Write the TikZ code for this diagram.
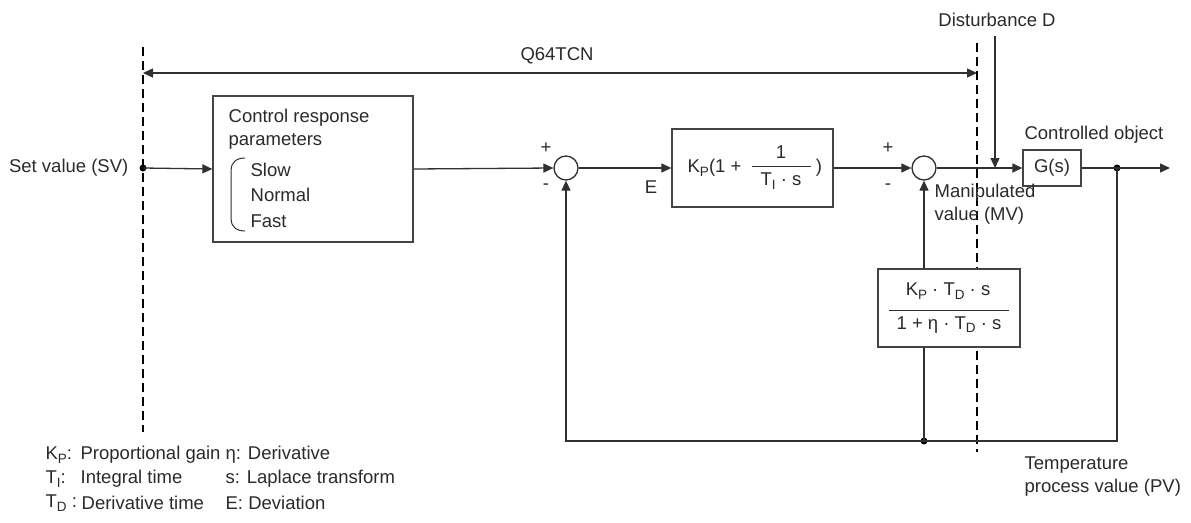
\documentclass[tikz,border=0pt]{standalone}
\usepackage{fontspec}
\setmainfont{Liberation Sans}
\usetikzlibrary{arrows.meta}
\definecolor{ln}{HTML}{303030}
\definecolor{bx}{HTML}{444444}
\definecolor{txt}{HTML}{2a2a2a}
\newcommand{\sbs}[1]{\raisebox{-3.5pt}{\fontsize{13.5}{14}\selectfont #1}}
\begin{document}
\begin{tikzpicture}[x=1pt,y=-1pt, line width=1.3pt, draw=ln,
  every node/.style={font=\fontsize{18.5}{22}\selectfont, text=txt, inner sep=0pt},
  arr/.style={-{Triangle[length=10pt,width=9pt]}},
  darr/.style={{Triangle[length=10pt,width=9pt]}-{Triangle[length=10pt,width=9pt]}},
  blk/.style={draw=bx, line width=1.3pt, fill=white},
  sumc/.style={circle, draw=ln, line width=1.3pt, minimum size=24pt, inner sep=0pt},
  dashl/.style={draw=black, line width=2pt, dash pattern=on 9pt off 5pt},
  dotn/.style={circle, fill=black, minimum size=7pt, inner sep=0pt}]
\useasboundingbox (0,0) rectangle (1191,522);

% dashed boundary lines
\coordinate (lt) at (143,47);
\coordinate (lb) at (143,432);
\coordinate (rt) at (977,43);
\coordinate (rb) at (977,452);
\draw[dashl] (lt) -- (lb);
\draw[dashl] (rt) -- (rb);

% Q64TCN range
\coordinate (ql) at (143,73);
\coordinate (qr) at (977,73);
\draw[darr] (ql) -- (qr);
\node (qlabel) at (557,56) {Q64TCN};

% blocks
\node[blk, minimum width=200pt, minimum height=146pt] (crp) at (313,169) {};
\node[anchor=west] (crp1) at (228,118) {Control response};
\node[anchor=west] (crp2) at (228,141) {parameters};
\node[anchor=west] (slow) at (250,170) {Slow};
\node[anchor=west] (normal) at (250,195) {Normal};
\node[anchor=west] (fast) at (250,221) {Fast};
\draw[line width=1pt] (245,158) .. controls (236,158) and (231,163) .. (231,170) -- (231,219) .. controls (231,226) and (236,231) .. (245,231);

\node[sumc] (s1) at (566,168) {};
\node[sumc] (s2) at (924,168) {};

\node[blk, minimum width=161pt, minimum height=78pt] (pi) at (752.5,168) {};
\node[anchor=west] (pi1) at (687,168) {K\sbs{P}(1 +};
\node (pi2) at (781,152) {1};
\draw[line width=1pt] (752,166) -- (811,166);
\node (pi3) at (781,181) {T\sbs{I} · s};
\node (pi4) at (819,168) {)};

\node[blk, minimum width=58pt, minimum height=36pt] (g) at (1052,168) {G(s)};
\node (gl) at (1094,135) {Controlled object};

\node[blk, minimum width=142pt, minimum height=78pt] (d) at (949,308) {};
\node (d1) at (948,291) {K\sbs{P} · T\sbs{D} · s};
\draw[line width=1pt] (889,310) -- (1009,310);
\node (d2) at (949,325) {1 + η · T\sbs{D} · s};

% signs
\node (p1) at (546,148) {+};
\node (m1) at (546,187) {-};
\node (p2) at (888,148) {+};
\node (m2) at (888,187) {-};
\node (elab) at (651,187) {E};

% labels
\node[anchor=east] (sv) at (129,168) {Set value (SV)};
\node (dlab) at (997,20) {Disturbance D};
\node[anchor=west] (mv1) at (934,193) {Manipulated};
\node[anchor=west] (mv2) at (934,216) {value (MV)};
\node[anchor=west] (pv1) at (1024,465) {Temperature};
\node[anchor=west] (pv2) at (1024,488) {process value (PV)};

% dots
\node[dotn] (svdot) at (143,168) {};
\node[dotn] (odot) at (1117,168) {};
\node[dotn] (ddot) at (924,441) {};
\coordinate (fbc) at (1117,441);
\coordinate (outend) at (1170,168);
\coordinate (dtop) at (995,36);
\coordinate (djoin) at (995,168);

% connectors
\draw[arr] (svdot.center) -- (crp.west);
\draw[arr] (crp.east) -- (s1.west);
\draw[arr] (s1.east) -- (pi.west);
\draw[arr] (pi.east) -- (s2.west);
\draw[arr] (s2.east) -- (g.west);
\draw[arr] (dtop) -- (djoin);
\draw[arr] (g.east) -- (outend);
\draw (odot.center) -- (fbc) -- (ddot.center);
\draw[arr] (ddot.center) -| (s1.south);
\draw (ddot.center) -- (ddot.center |- d.south);
\draw[arr] (d.north -| s2) -- (s2.south);

% legend
\node[anchor=west] (k1) at (45,455) {K\sbs{P}:};
\node[anchor=west] (k2) at (80,455) {Proportional gain};
\node[anchor=west] (t1) at (45,479) {T\sbs{I}:};
\node[anchor=west] (t2) at (80,479) {Integral time};
\node[anchor=west] (td1) at (45,503) {T\sbs{D} :};
\node[anchor=west] (td2) at (81,503) {Derivative time};
\node[anchor=west] (e1) at (225,455) {η: Derivative};
\node[anchor=west] (e2) at (225,479) {s: Laplace transform};
\node[anchor=west] (e3) at (225,503) {E: Deviation};
\end{tikzpicture}
\end{document}
